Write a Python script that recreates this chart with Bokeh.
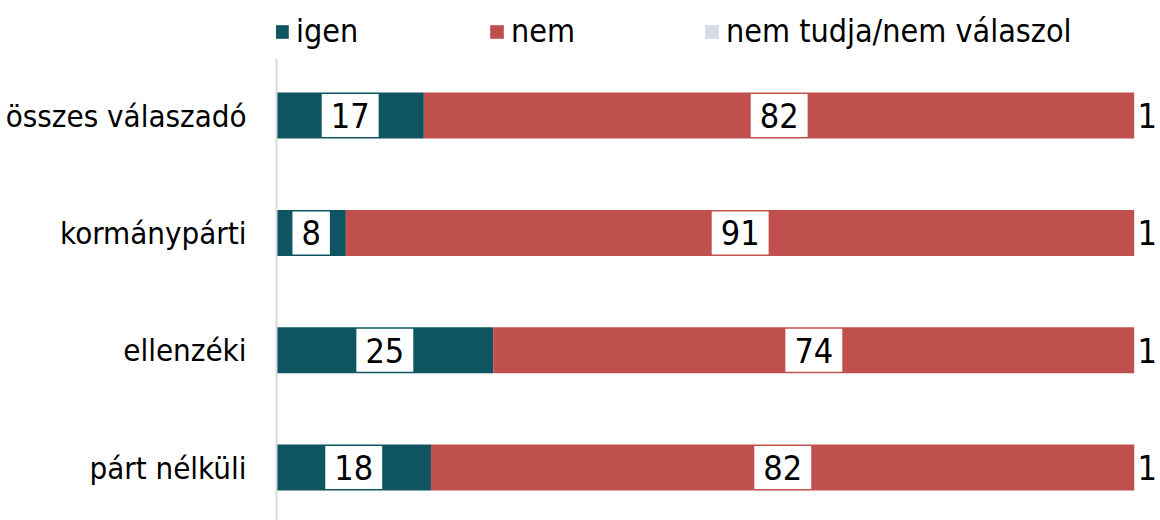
from bokeh.plotting import figure
from bokeh.models import ColumnDataSource, Range1d, FixedTicker, Legend, LegendItem
from bokeh.core.properties import value
from bokeh.embed import file_html
from bokeh.resources import INLINE

categories = ["összes válaszadó", "kormánypárti", "ellenzéki", "párt nélküli"]
series = ["igen", "nem", "nem tudja/nem válaszol"]
igen = [17, 8, 25, 18]
nem = [82, 91, 74, 82]
nem_tudja = [1, 1, 1, 1]
colors = ["#0e5461", "#c0504d", "#d6dce5"]

FONT = "DejaVu Sans Condensed"
Y0, Y1 = -0.451, 3.486

p = figure(width=1160, height=520, output_backend="svg", toolbar_location=None,
           x_range=Range1d(0, 102.0), y_range=Range1d(Y0, 3.981),
           min_border_left=276, min_border_right=0, min_border_top=0, min_border_bottom=0)
p.outline_line_color = None
p.grid.visible = False
p.xaxis.visible = False
p.background_fill_color = "white"
p.border_fill_color = "white"

ypos = [len(categories) - 1 - i for i in range(len(categories))]
vals = [igen, nem, nem_tudja]
totals = [sum(v[i] for v in vals) for i in range(len(categories))]

left = [0.0] * len(categories)
renderers = []
for k, (name, v) in enumerate(zip(series, vals)):
    share = [v[i] / totals[i] * 100 for i in range(len(categories))]
    right = [left[i] + share[i] for i in range(len(categories))]
    mid = [(left[i] + right[i]) / 2 for i in range(len(categories))]
    src = ColumnDataSource(dict(y=ypos, left=left, right=right, mid=mid,
                                lbl=[str(x) for x in v]))
    r = p.hbar(y="y", left="left", right="right", height=0.392, source=src,
               fill_color=colors[k], line_color=None)
    renderers.append(r)
    last = (k == len(series) - 1)
    if last:
        p.text(x="left", y="y", text="lbl", source=src, text_font=value(FONT),
               text_font_size="34px", text_color="#000000", text_align="left",
               text_baseline="middle", background_fill_color="white",
               padding=dict(left=3, right=0, top=14, bottom=14))
    else:
        p.text(x="mid", y="y", text="lbl", source=src, text_font=value(FONT),
               text_font_size="34px", text_color="#000000", text_align="center",
               text_baseline="middle", background_fill_color="white", padding=9)
    left = right

p.yaxis.ticker = FixedTicker(ticks=ypos)
p.yaxis.major_label_overrides = {y: c for y, c in zip(ypos, categories)}
p.yaxis.bounds = (Y0, Y1)
p.yaxis.major_tick_line_color = None
p.yaxis.minor_tick_line_color = None
p.yaxis.axis_line_color = "#d9d9d9"
p.yaxis.axis_line_width = 2
p.yaxis.major_label_standoff = 24
p.yaxis.major_label_text_font = FONT
p.yaxis.major_label_text_font_size = "31px"
p.yaxis.major_label_text_color = "#000000"

legend = Legend(items=[LegendItem(label=s, renderers=[r]) for s, r in zip(series, renderers)],
                orientation="horizontal", location=(-3, 470),
                glyph_width=17, glyph_height=17, label_standoff=6, label_width=192,
                spacing=0, padding=0, margin=0, border_line_color=None,
                background_fill_alpha=0,
                label_text_font=FONT, label_text_font_size="32px",
                label_text_color="#000000")
p.add_layout(legend, "center")

open("out.html", "w").write(file_html(p, INLINE))
